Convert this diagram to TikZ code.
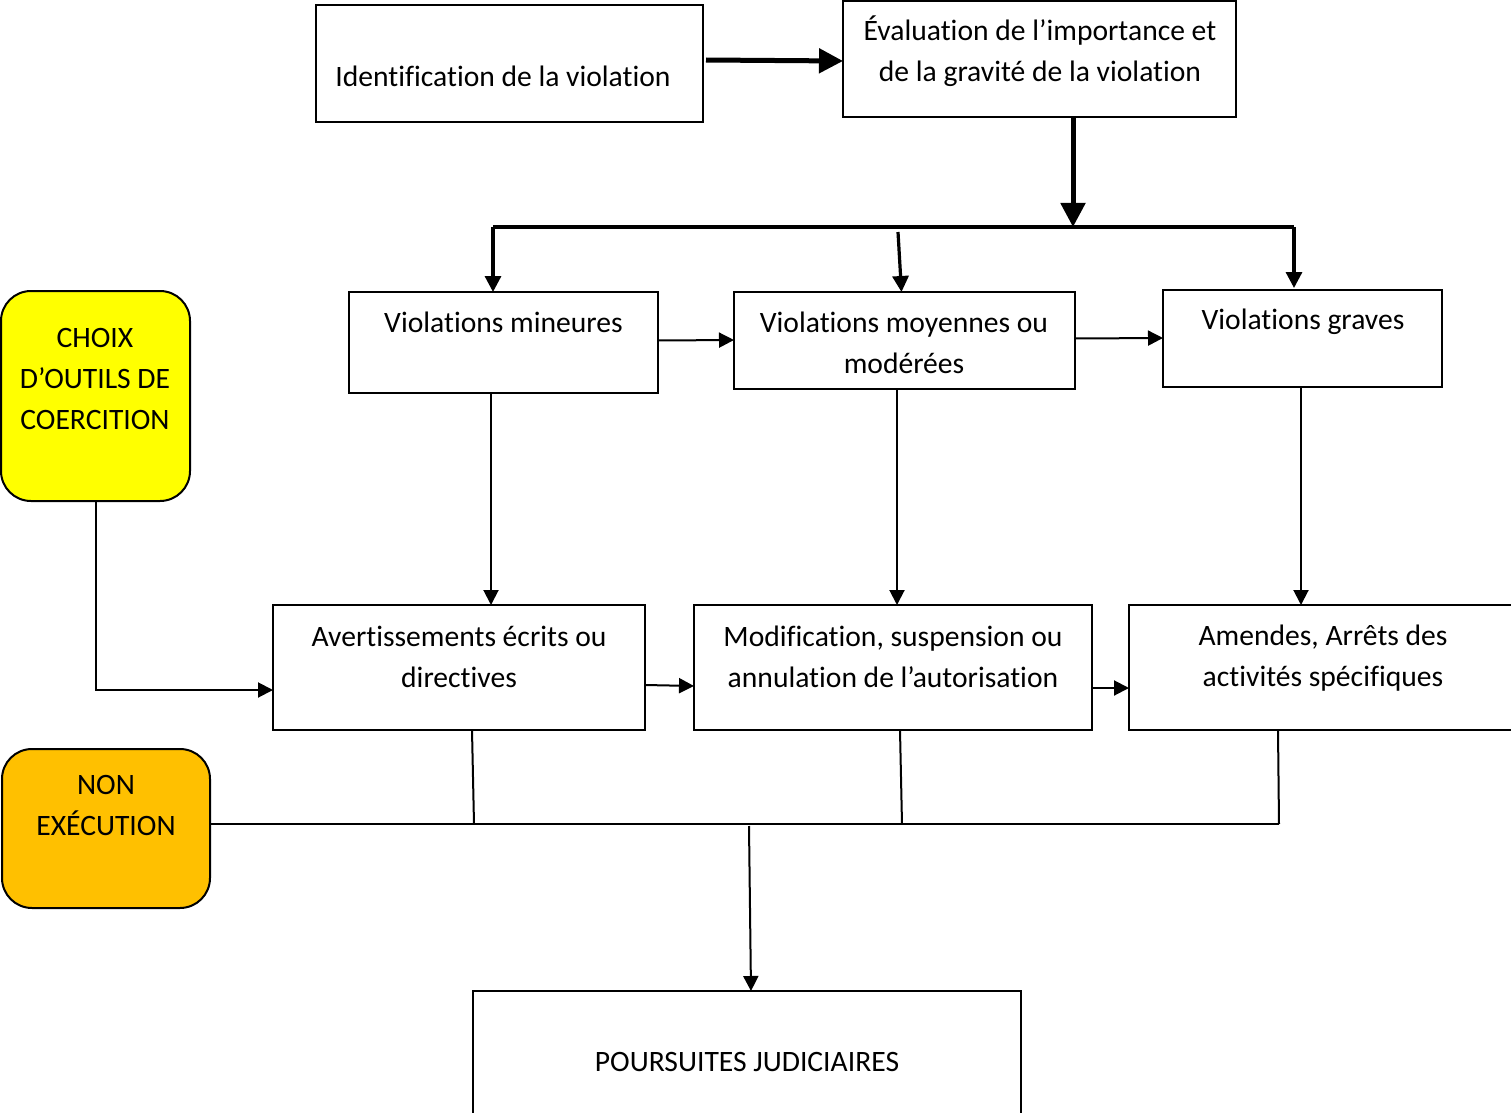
\documentclass[tikz,border=0pt]{standalone}
\usepackage{fontspec}
\setmainfont[Ligatures=NoCommon]{Carlito}
\usetikzlibrary{arrows.meta}
\definecolor{jaune}{RGB}{255,255,0}
\definecolor{orange}{RGB}{255,192,0}

\begin{document}
\begin{tikzpicture}[x=0.5pt,y=0.5pt,yscale=-1,xscale=1,
  cadre/.style={draw,line width=1pt,inner sep=0pt,outer sep=0pt},
  arrondi/.style={cadre,rounded corners=15pt},
  texte/.style={align=center,inner sep=0pt,font=\fontsize{14.8}{20.5}\selectfont},
  lien/.style={line width=1pt,-{Triangle[length=7.5pt,width=7.5pt]}},
  trait/.style={line width=1pt},
  fort/.style={line width=2.5pt,-{Triangle[length=12pt,width=12pt]}},
  moyen/.style={line width=1.6pt,-{Triangle[length=8pt,width=8pt]}}]
\useasboundingbox (0,0) rectangle (1511,1113);

%Shape: Rectangle
\node[cadre,minimum width=193.5pt,minimum height=58.5pt] (ident) at (509.5,63.5) {};
%Shape: Rectangle
\node[cadre,minimum width=196.5pt,minimum height=58pt] (eval) at (1039.5,59) {};
%Shape: Rectangle
\node[cadre,minimum width=154.5pt,minimum height=50.5pt] (mineures) at (503.5,342.5) {};
%Shape: Rectangle
\node[cadre,minimum width=170.5pt,minimum height=48.5pt] (moyennes) at (904.5,340.5) {};
%Shape: Rectangle
\node[cadre,minimum width=139.5pt,minimum height=48.5pt] (graves) at (1302.5,338.5) {};
%Shape: Rounded Rect
\node[arrondi,fill=jaune,minimum width=94.5pt,minimum height=105pt] (choix) at (95.5,396) {};
%Shape: Rectangle
\node[cadre,minimum width=186pt,minimum height=62.5pt] (avert) at (459,667.5) {};
%Shape: Rectangle
\node[cadre,minimum width=199pt,minimum height=62.5pt] (modif) at (893,667.5) {};
%Shape: Rectangle
\node[cadre,minimum width=200.5pt,minimum height=62.5pt] (amendes) at (1329.5,667.5) {};
%Shape: Rounded Rect
\node[arrondi,fill=orange,minimum width=104pt,minimum height=79.5pt] (nonexec) at (106,828.5) {};
%Shape: Rectangle
\node[cadre,minimum width=274pt,minimum height=71pt,texte] (poursuites) at (747,1062) {POURSUITES JUDICIAIRES};

% Text Node
\node[texte] (t-ident) at (503,76) {Identification de la violation};
% Text Node
\node[texte] (t-eval) at (1040,51.5) {Évaluation de l’importance et\\de la gravité de la violation};
% Text Node
\node[texte] (t-mineures) at (503.5,322) {Violations mineures};
% Text Node
\node[texte] (t-moyennes) at (904,342.5) {Violations moyennes ou\\modérées};
% Text Node
\node[texte] (t-graves) at (1303,322) {Violations graves};
% Text Node
\node[texte] (t-choix) at (95,378.5) {CHOIX\\D’OUTILS DE\\COERCITION};
% Text Node
\node[texte] (t-avert) at (459,656.5) {Avertissements écrits ou\\directives};
% Text Node
\node[texte] (t-modif) at (893,656.5) {Modification, suspension ou\\annulation de l’autorisation};
% Text Node
\node[texte] (t-amendes) at (1323,658.5) {Amendes, Arrêts des\\activités spécifiques};
% Text Node
\node[texte] (t-nonexec) at (106,805.5) {NON\\EXÉCUTION};

%Coordinates
\coordinate (jonction) at (1073,227);
\coordinate (barG) at (493,227);
\coordinate (barM) at (898,232);
\coordinate (barD) at (1294,227);
\coordinate (r1) at (474,824);
\coordinate (r2) at (902,824);
\coordinate (r3) at (1279,824);
\coordinate (r0) at (749,826);

%Straight Lines [thick]
\draw[fort] ([shift={(3,-3.5)}]ident.east) -- ([shift={(0,2)}]eval.west);
\draw[fort] (eval.south -| jonction) -- (jonction);
\draw[line width=1.6pt] (barG) -- (barD);
\draw[moyen] (barG) -- (mineures.north -| barG);
\draw[moyen] (barM) -- ([shift={(-3,0)}]moyennes.north);
\draw[moyen] (barD) -- ([shift={(0,-2)}]graves.north -| barD);

%Straight Lines
\draw[lien] ([shift={(0,-2)}]mineures.east) -- ([shift={(0,-0.5)}]moyennes.west);
\draw[lien] ([shift={(0,-2)}]moyennes.east) -- ([shift={(0,-0.5)}]graves.west);
\draw[lien] ([shift={(-12.5,0)}]mineures.south) -- ([shift={(32,0)}]avert.north);
\draw[lien] ([shift={(-7.5,0)}]moyennes.south) -- ([shift={(4,0)}]modif.north);
\draw[lien] ([shift={(-1.5,0)}]graves.south) -- ([shift={(-28.5,0)}]amendes.north);
\draw[lien] (choix.south) |- ([shift={(0,22.5)}]avert.west);
\draw[lien] ([shift={(0,17.5)}]avert.east) -- ([shift={(0,18.5)}]modif.west);
\draw[lien] ([shift={(0,20.5)}]modif.east) -- ([shift={(0,20.5)}]amendes.west);

%Straight Lines [non execution]
\draw[trait] ([shift={(0,-4.5)}]nonexec.east) -- (r3);
\draw[trait] ([shift={(13,0)}]avert.south) -- (r1);
\draw[trait] ([shift={(7,0)}]modif.south) -- (r2);
\draw[trait] ([shift={(-51.5,0)}]amendes.south) -- (r3);
\draw[lien] (r0) -- ([shift={(4,0)}]poursuites.north);
\end{tikzpicture}
\end{document}
